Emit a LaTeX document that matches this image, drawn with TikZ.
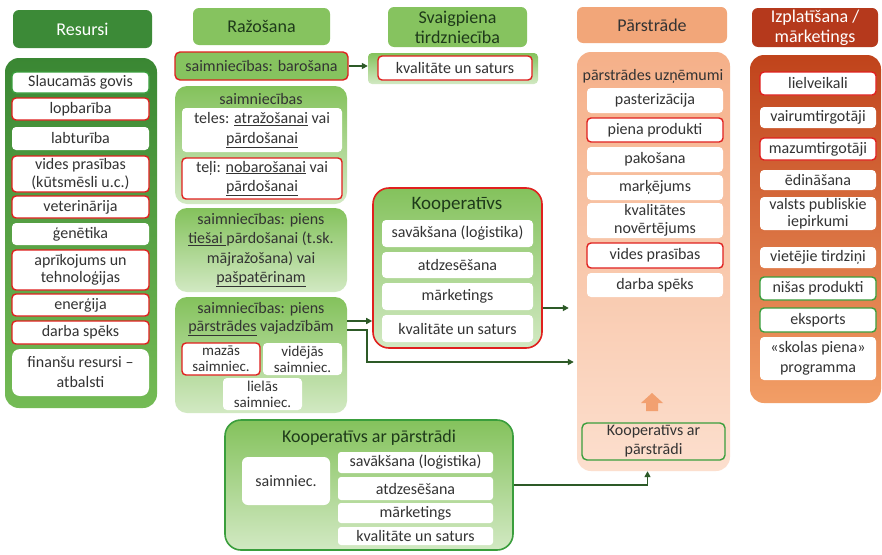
\documentclass[tikz,border=0pt]{standalone}
\usepackage{fontspec}
\setmainfont{Carlito}
\usetikzlibrary{arrows.meta}
\definecolor{dkgreen}{HTML}{3C8A37}
\definecolor{resTop}{HTML}{3A8733}
\definecolor{resBot}{HTML}{74BB55}
\definecolor{ltgreen}{HTML}{86C35F}
\definecolor{lgTop}{HTML}{84C25C}
\definecolor{lgBot}{HTML}{D2E9C3}
\definecolor{myred}{HTML}{E0201E}
\definecolor{mygreen}{HTML}{3A9E3C}
\definecolor{salmon}{HTML}{F2A679}
\definecolor{peTop}{HTML}{F5B089}
\definecolor{peBot}{HTML}{FCDFCE}
\definecolor{brick}{HTML}{B5391C}
\definecolor{izTop}{HTML}{C0431B}
\definecolor{izBot}{HTML}{F29E66}
\definecolor{txt}{HTML}{333333}
\definecolor{hdtxt}{HTML}{1E3A1A}
\definecolor{arr}{HTML}{2D5A27}
\definecolor{orarr}{HTML}{F2A070}
\newcommand\fitem{\fontsize{16}{17.5}\selectfont}
\newcommand\fsmall{\fontsize{15}{16}\selectfont}
\newcommand\fhead{\fontsize{18}{20}\selectfont}
\newcommand\mybox[7]{\node[#6, minimum width={(#4-#2)*1pt}, minimum height={(#5-#3)*1pt}] (#1) at ({(#2+#4)/2},{(#3+#5)/2}) {#7};}
\tikzset{
  base/.style={inner sep=0pt, align=center, text=txt, font=\fitem},
  item/.style={base, fill=white, rounded corners=4pt},
  ired/.style={item, draw=myred, line width=1.4pt},
  igrn/.style={item, draw=mygreen, line width=1.4pt},
  hdrdark/.style={base, fill=dkgreen, rounded corners=6pt, text=white, font=\fhead},
  hdrlight/.style={base, fill=ltgreen, rounded corners=6pt, text=hdtxt, font=\fhead},
  hdrsalmon/.style={base, fill=salmon, rounded corners=6pt, text=txt, font=\fhead},
  hdrred/.style={base, fill=brick, rounded corners=6pt, text=white, font=\fhead},
  pnlres/.style={base, top color=resTop, bottom color=resBot, rounded corners=14pt},
  pnllg/.style={base, top color=lgTop, bottom color=lgBot, rounded corners=12pt},
  pnlpe/.style={base, top color=peTop, bottom color=peBot, rounded corners=14pt},
  pnliz/.style={base, top color=izTop, bottom color=izBot, rounded corners=14pt},
  ttl/.style={base, font=\fitem},
  conn/.style={draw=arr, line width=1.6pt, -{Triangle[length=6pt,width=6pt]}},
}
\begin{document}
\begin{tikzpicture}[x=1pt,y=-1pt]
\useasboundingbox (0,0) rectangle (882,554);
\fill[white] (0,0) rectangle (882,554);
% ---------- Resursi ----------
\mybox{hres}{13}{10}{152}{48}{hdrdark}{Resursi}
\mybox{pres}{5}{58}{157}{408}{pnlres}{}
\mybox{r1}{12}{72}{149}{93}{igrn}{Slaucamās govis}
\mybox{r2}{12}{98}{149}{120}{ired}{lopbarība}
\mybox{r3}{12}{127}{149}{150}{item}{labturība}
\mybox{r4}{12}{156}{149}{192}{ired}{vides prasības\\(kūtsmēsli u.c.)}
\mybox{r5}{12}{196}{149}{218}{ired}{veterinārija}
\mybox{r6}{12}{223}{149}{245}{item}{ģenētika}
\mybox{r7}{12}{250}{149}{290}{ired}{aprīkojums un\\tehnoloģijas}
\mybox{r8}{12}{294}{149}{316}{ired}{enerģija}
\mybox{r9}{12}{321}{149}{344}{ired}{darba spēks}
\mybox{r10}{12}{349}{149}{396}{item, rounded corners=8pt, font=\fontsize{16}{20}\selectfont}{finanšu resursi –\\atbalsti}
% ---------- Ražošana ----------
\mybox{hraz}{193}{8}{330}{45}{hdrlight}{Ražošana}
\mybox{bar}{175}{52}{348}{80}{base, fill=ltgreen, draw=myred, line width=1.4pt, rounded corners=5pt}{saimniecības: barošana}
\mybox{psaim}{175}{86}{347}{204}{pnllg}{}
\node[ttl] (tsaim) at (261,99) {saimniecības};
\mybox{t1}{182}{108}{342}{152}{item, font=\fontsize{16}{19.5}\selectfont}{teles: \underline{atražošanai} vai\\\underline{pārdošanai}}
\mybox{t2}{182}{158}{342}{199}{ired, font=\fontsize{16}{19.5}\selectfont}{teļi: \underline{nobarošanai} vai\\\underline{pārdošanai}}
\mybox{ptie}{175}{208}{347}{292}{pnllg, font=\fontsize{16}{19.5}\selectfont}{saimniecības: piens\\\underline{tiešai }pārdošanai (t.sk.\\mājražošana) vai\\\underline{pašpatērinam}}
\mybox{ppar}{175}{297}{347}{413}{pnllg}{}
\node[ttl, font=\fontsize{16}{18}\selectfont] (tpar) at (261,319) {saimniecības: piens\\\underline{pārstrādes} vajadzībām};
\mybox{s1}{182}{343}{260}{375}{ired, font=\fsmall}{mazās\\saimniec.}
\mybox{s2}{263}{343}{342}{375}{item, font=\fsmall}{vidējās\\saimniec.}
\mybox{s3}{223}{378}{302}{410}{item, font=\fsmall}{lielās\\saimniec.}
% ---------- Svaigpiena tirdzniecība ----------
\mybox{hsv}{388}{7}{527}{47}{hdrlight}{Svaigpiena\\tirdzniecība}
\mybox{psv}{368}{53}{538}{84}{base, top color=lgTop, bottom color=lgBot, rounded corners=4pt}{}
\mybox{kv}{378}{56}{532}{80}{ired}{kvalitāte un saturs}
% ---------- Kooperatīvs ----------
\mybox{pkoo}{373}{188}{542}{348}{pnllg, draw=myred, line width=1.6pt, rounded corners=16pt}{}
\node[ttl, font=\fontsize{19}{22}\selectfont, text=hdtxt] (tkoo) at (457,205) {Kooperatīvs};
\mybox{k1}{382}{220}{533}{247}{item}{savākšana (loģistika)}
\mybox{k2}{382}{252}{533}{278}{item}{atdzesēšana}
\mybox{k3}{382}{283}{533}{310}{item}{mārketings}
\mybox{k4}{382}{315}{533}{342}{item}{kvalitāte un saturs}
% ---------- Pārstrāde ----------
\mybox{hpar}{577}{7}{727}{43}{hdrsalmon}{Pārstrāde}
\mybox{ppr}{577}{52}{730}{471}{pnlpe}{}
\node[ttl] (tppr) at (653,76) {pārstrādes uzņēmumi};
\mybox{p1}{587}{88}{723}{113}{item}{pasterizācija}
\mybox{p2}{587}{118}{723}{142}{ired}{piena produkti}
\mybox{p3}{587}{147}{723}{172}{item}{pakošana}
\mybox{p4}{587}{175}{723}{200}{item}{marķējums}
\mybox{p5}{587}{203}{723}{238}{item}{kvalitātes\\novērtējums}
\mybox{p6}{587}{243}{723}{268}{ired}{vides prasības}
\mybox{p7}{587}{273}{723}{297}{item}{darba spēks}
\fill[orarr] (646,411) -- (646,403) -- (641,403) -- (652,393) -- (663,403) -- (658,403) -- (658,411) -- cycle;
\mybox{pk}{582}{423}{725}{460}{base, draw=mygreen, line width=1.4pt, rounded corners=5pt, font=\fontsize{16}{19}\selectfont}{Kooperatīvs ar\\pārstrādi}
% ---------- Izplatīšana ----------
\mybox{hizp}{752}{8}{878}{47}{hdrred}{Izplatīšana /\\mārketings}
\mybox{pizp}{750}{55}{881}{403}{pnliz}{}
\mybox{i1}{760}{72}{876}{95}{ired}{lielveikali}
\mybox{i2}{760}{107}{876}{128}{item}{vairumtirgotāji}
\mybox{i3}{760}{138}{876}{160}{ired}{mazumtirgotāji}
\mybox{i4}{760}{170}{876}{190}{item}{ēdināšana}
\mybox{i5}{760}{197}{876}{230}{item}{valsts publiskie\\iepirkumi}
\mybox{i6}{760}{247}{876}{268}{item}{vietējie tirdziņi}
\mybox{i7}{760}{277}{876}{300}{igrn}{nišas produkti}
\mybox{i8}{760}{308}{876}{332}{igrn}{eksports}
\mybox{i9}{760}{337}{876}{380}{item, font=\fontsize{16}{20}\selectfont}{«skolas piena»\\programma}
% ---------- Kooperatīvs ar pārstrādi ----------
\mybox{pbc}{225}{420}{513}{550}{pnllg, draw=mygreen, line width=1.6pt, rounded corners=16pt}{}
\node[ttl, font=\fhead, text=hdtxt] (tbc) at (369,438) {Kooperatīvs ar pārstrādi};
\mybox{b0}{242}{457}{330}{505}{item, rounded corners=6pt}{saimniec.}
\mybox{b1}{338}{452}{493}{473}{item, rounded corners=3pt}{savākšana (loģistika)}
\mybox{b2}{338}{477}{493}{500}{item, rounded corners=3pt}{atdzesēšana}
\mybox{b3}{338}{503}{493}{523}{item, rounded corners=3pt}{mārketings}
\mybox{b4}{338}{527}{493}{545}{item, rounded corners=3pt}{kvalitāte un saturs}
% ---------- connectors ----------
\coordinate (bend) at (367,362);
\draw[conn] (bar.east) -- (bar.east -| psv.west);
\draw[conn] ([yshift=34pt]ppar.east) -- ([yshift=34pt]ppar.east -| pkoo.west);
\draw[conn] ([yshift=25pt]ppar.east) -| (bend) -- ([xshift=-3pt]bend -| ppr.west);
\draw[conn] ([yshift=-40pt]pkoo.east) -- ([yshift=-40pt, xshift=-8pt]pkoo.east -| ppr.west);
\draw[conn] (pbc.east) -| ([xshift=-6pt]ppr.south);
\end{tikzpicture}
\end{document}
